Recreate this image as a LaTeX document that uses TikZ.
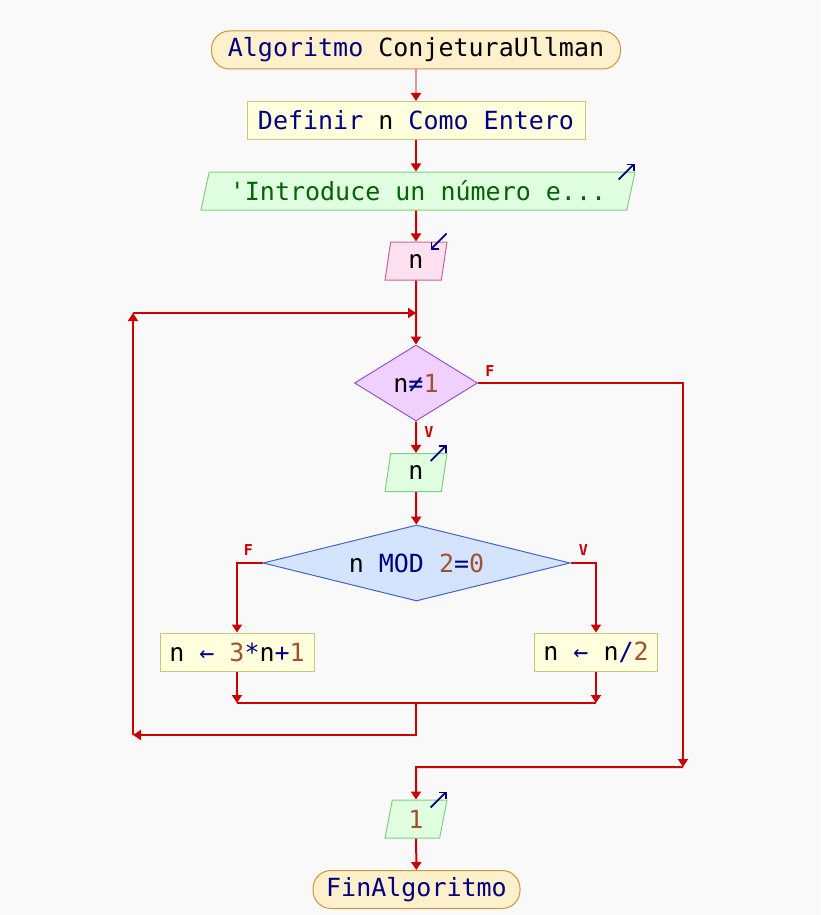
\documentclass[tikz,border=0pt]{standalone}
\usepackage{fontspec}
\setmonofont{DejaVu Sans Mono}
\usetikzlibrary{arrows.meta,shapes.geometric,calc}

\definecolor{bgcol}{RGB}{249,249,249}
\definecolor{flowred}{RGB}{204,0,0}
\definecolor{flowpink}{RGB}{222,150,160}
\definecolor{kwblue}{RGB}{0,0,128}
\definecolor{litbrown}{RGB}{160,82,45}
\definecolor{strgreen}{RGB}{0,100,0}
\definecolor{termfill}{RGB}{255,240,204}
\definecolor{termline}{RGB}{200,150,60}
\definecolor{procfill}{RGB}{255,255,221}
\definecolor{procline}{RGB}{200,200,120}
\definecolor{outfill}{RGB}{224,255,224}
\definecolor{outline}{RGB}{130,205,130}
\definecolor{infill}{RGB}{255,224,240}
\definecolor{inline}{RGB}{204,102,136}
\definecolor{whilefill}{RGB}{240,208,255}
\definecolor{whileline}{RGB}{150,85,210}
\definecolor{iffill}{RGB}{212,228,255}
\definecolor{ifline}{RGB}{70,100,200}

\newcommand{\kw}[1]{\textcolor{kwblue}{#1}}
\newcommand{\lit}[1]{\textcolor{litbrown}{#1}}

\tikzset{
  psfont/.style={font=\ttfamily\fontsize{25}{30}\selectfont},
  term/.style={psfont, draw=termline, fill=termfill, line width=1pt,
    rounded corners=18pt, minimum height=38pt, inner sep=0pt},
  proc/.style={psfont, draw=procline, fill=procfill, line width=1pt,
    minimum height=38pt, inner sep=0pt},
  outp/.style={psfont, trapezium, trapezium left angle=68, trapezium right angle=112,
    trapezium stretches body, draw=outline, fill=outfill, line width=1pt,
    minimum height=38pt, inner sep=0pt},
  inp/.style={outp, draw=inline, fill=infill},
  decide/.style={psfont, diamond, line width=1pt, inner sep=0pt, minimum height=76pt},
  flow/.style={draw=flowred, line width=2pt, -{Triangle[width=10pt,length=8pt]}},
  flowline/.style={draw=flowred, line width=2pt},
  icon/.style={draw=kwblue, line width=1.8pt, -{Straight Barb[length=5pt,width=10pt]}},
  lbl/.style={font=\ttfamily\bfseries\fontsize{15}{15}\selectfont, text=flowred, inner sep=0pt}
}

\begin{document}
\begin{tikzpicture}[x=1pt,y=-1pt]

  % fondo
  \fill[bgcol] (0,0) rectangle (820,915);
  \useasboundingbox (0,0) rectangle (820,915);

  % bloques
  \node[term, minimum width=409pt] (inicio) at (416,50) {\kw{Algoritmo} ConjeturaUllman};
  \node[proc, minimum width=338pt] (definir) at (416,120.5) {\kw{Definir} n \kw{Como Entero}};
  \node[outp, minimum width=434pt] (escribir) at (418,191) {\textcolor{strgreen}{'Introduce un número e...}};
  \node[inp, minimum width=62pt] (leer) at (416,261) {n};
  \node[decide, draw=whileline, fill=whilefill, minimum width=123pt, aspect=1.6] (mientras) at (416,383) {n\kw{≠}\lit{1}};
  \node[outp, minimum width=62pt] (escn) at (416,472.5) {n};
  \node[decide, draw=ifline, fill=iffill, minimum width=307pt, aspect=4] (si) at (416.5,563) {n \kw{MOD} \lit{2}\kw{=}\lit{0}};
  \node[proc, minimum width=154pt] (izq) at (237,652) {n \kw{←} \lit{3}\kw{*}n\kw{+}\lit{1}};
  \node[proc, minimum width=123pt] (der) at (596,652) {n \kw{←} n\kw{/}\lit{2}};
  \node[outp, minimum width=62pt] (escfin) at (416,819) {\lit{1}};
  \node[term, minimum width=207pt] (fin) at (416.5,889.5) {\kw{FinAlgoritmo}};

  % puntos de union
  \coordinate (jl) at (237,703);
  \coordinate (jr) at (596,703);
  \coordinate (jm) at (416,703);
  \coordinate (lb) at (416,735);
  \coordinate (lbl) at (133,735);
  \coordinate (ltl) at (133,313);
  \coordinate (ltr) at (416,313);
  \coordinate (rt) at (683,383);
  \coordinate (rb) at (683,767);
  \coordinate (rbl) at (416,767);

  % flechas
  \draw[flow, draw=flowpink, -{Triangle[width=10pt,length=8pt,color=flowred]}] (inicio) -- (definir);
  \draw[flow] (definir.south) -- (definir.south |- escribir.north);
  \draw[flow] (definir.south |- escribir.south) -- (leer.north);
  \draw[flow] (leer) -- (mientras);
  \draw[flow] (mientras) -- (escn);
  \draw[flow] (escn) -- (si);
  \draw[flow] (si.west) -| (izq.north);
  \draw[flow] (si.east) -| (der.north);
  \draw[flow] (izq.south) -- (jl);
  \draw[flow] (der.south) -- (jr);
  \draw[flowline] (jl) -- (jr);
  % vuelta del bucle
  \draw[flow] (jm) -- (lb) -- (lbl);
  \draw[flow] (lbl) -- (ltl);
  \draw[flow] (ltl) -- (ltr);
  % salida del bucle
  \draw[flow] (mientras.east) -- (rt) -- (rb);
  \draw[flow] (rb) -- (rbl) -- (escfin.north);
  \draw[flow] (escfin) -- (fin);

  % etiquetas V/F
  \node[lbl] (fmientras) at ($(mientras.east)+(12,-12)$) {F};
  \node[lbl] (vmientras) at ($(mientras.south)+(13,11)$) {V};
  \node[lbl] (fsi) at ($(si.west)+(-14,-13)$) {F};
  \node[lbl] (vsi) at ($(si.east)+(13,-13)$) {V};

  % iconos entrada/salida
  \draw[icon] ($(escribir.top right corner)+(-17,8)$) -- ++(16,-16);
  \draw[icon] ($(escn.top right corner)+(-17,8)$) -- ++(16,-16);
  \draw[icon] ($(escfin.top right corner)+(-17,8)$) -- ++(16,-16);
  \draw[icon] ($(leer.top right corner)+(-1,-8)$) -- ++(-16,16);

\end{tikzpicture}
\end{document}
